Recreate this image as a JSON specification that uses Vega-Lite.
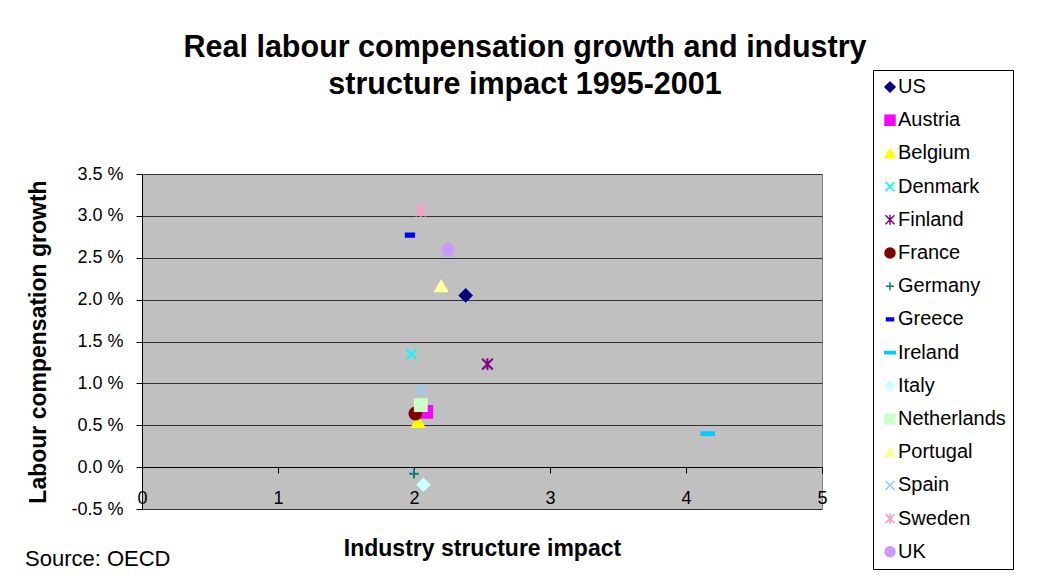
{
  "$schema": "https://vega.github.io/schema/vega-lite/v6.json",
  "width": 680,
  "height": 335,
  "autosize": {"type": "none"},
  "padding": {"left": 142, "top": 174, "right": 216, "bottom": 72},
  "background": "white",
  "config": {
    "font": "Liberation Sans",
    "view": {"fill": "#C0C0C0", "stroke": "#808080", "strokeWidth": 1}
  },
  "title": {
    "text": ["Real labour compensation growth and industry", "structure impact 1995-2001"],
    "fontSize": 30.5,
    "fontWeight": "bold",
    "font": "Liberation Sans",
    "color": "black",
    "anchor": "middle",
    "frame": "group",
    "dx": 43,
    "offset": -31,
    "lineHeight": 37
  },
  "layer": [
    {
      "data": {
        "values": [
          {"country": "US", "impact": 2.38, "growth": 2.05},
          {"country": "Austria", "impact": 2.09, "growth": 0.66},
          {"country": "Belgium", "impact": 2.03, "growth": 0.54},
          {"country": "Denmark", "impact": 1.98, "growth": 1.35},
          {"country": "Finland", "impact": 2.54, "growth": 1.23},
          {"country": "France", "impact": 2.01, "growth": 0.64},
          {"country": "Germany", "impact": 2.0, "growth": -0.08},
          {"country": "Greece", "impact": 1.97, "growth": 2.77},
          {"country": "Ireland", "impact": 4.16, "growth": 0.4},
          {"country": "Italy", "impact": 2.07, "growth": -0.21},
          {"country": "Netherlands", "impact": 2.05, "growth": 0.74},
          {"country": "Portugal", "impact": 2.2, "growth": 2.16},
          {"country": "Spain", "impact": 2.05, "growth": 0.92},
          {"country": "Sweden", "impact": 2.05, "growth": 3.06},
          {"country": "UK", "impact": 2.25, "growth": 2.59}
        ]
      },
      "mark": {"type": "point", "filled": true, "opacity": 1, "strokeWidth": 2, "size": 140},
      "encoding": {
        "x": {
          "field": "impact",
          "type": "quantitative",
          "scale": {"domain": [0, 5], "nice": false, "zero": false},
          "axis": {
            "values": [0, 1, 2, 3, 4, 5],
            "format": "d",
            "offset": -42,
            "grid": false,
            "domainColor": "black",
            "tickColor": "black",
            "tickSize": 6,
            "labelFontSize": 18,
            "labelColor": "black",
            "labelPadding": 16,
            "labelFlush": false,
            "labelOverlap": false,
            "title": "Industry structure impact",
            "titleFontSize": 23,
            "titleFontWeight": "bold",
            "titleColor": "black",
            "titlePadding": 30
          }
        },
        "y": {
          "field": "growth",
          "type": "quantitative",
          "scale": {"domain": [-0.5, 3.5], "nice": false, "zero": false},
          "axis": {
            "values": [-0.5, 0, 0.5, 1, 1.5, 2, 2.5, 3, 3.5],
            "labelExpr": "(datum.value < 0 ? '-' : '') + format(abs(datum.value), '.1f') + ' %'",
            "grid": true,
            "gridColor": "#333333",
            "gridWidth": 1,
            "domainColor": "black",
            "tickColor": "black",
            "tickSize": 6,
            "labelFontSize": 18,
            "labelColor": "black",
            "labelPadding": 13,
            "labelOverlap": false,
            "labelFlush": false,
            "title": "Labour compensation growth",
            "titleFontSize": 23,
            "titleFontWeight": "bold",
            "titleColor": "black",
            "titlePadding": 20
          }
        },
        "fill": {
          "field": "country",
          "type": "nominal",
          "scale": {
            "domain": ["US", "Austria", "Belgium", "Denmark", "Finland", "France", "Germany", "Greece", "Ireland", "Italy", "Netherlands", "Portugal", "Spain", "Sweden", "UK"],
            "range": ["#000080", "#FF00FF", "#FFFF00", "#00FFFF", "#800080", "#800000", "#008080", "#0000FF", "#00CCFF", "#CCFFFF", "#CCFFCC", "#FFFF99", "#99CCFF", "#FF99CC", "#CC99FF"]
          },
          "legend": {"orient": "none", "legendX": 731, "legendY": -104, "title": null, "strokeColor": "black", "fillColor": "white", "padding": 7, "rowPadding": 13.2, "labelFontSize": 20, "labelColor": "black", "symbolSize": 100, "symbolStrokeWidth": 1.5, "labelOffset": -2, "labelLimit": 300, "cornerRadius": 0}
        },
        "stroke": {
          "field": "country",
          "type": "nominal",
          "scale": {
            "domain": ["US", "Austria", "Belgium", "Denmark", "Finland", "France", "Germany", "Greece", "Ireland", "Italy", "Netherlands", "Portugal", "Spain", "Sweden", "UK"],
            "range": ["#000080", "#FF00FF", "#FFFF00", "#00FFFF", "#800080", "#800000", "#008080", "#0000FF", "#00CCFF", "#CCFFFF", "#CCFFCC", "#FFFF99", "#99CCFF", "#FF99CC", "#CC99FF"]
          },
          "legend": {"orient": "none", "legendX": 731, "legendY": -104, "title": null, "strokeColor": "black", "fillColor": "white", "padding": 7, "rowPadding": 13.2, "labelFontSize": 20, "labelColor": "black", "symbolSize": 100, "symbolStrokeWidth": 1.5, "labelOffset": -2, "labelLimit": 300, "cornerRadius": 0}
        },
        "shape": {
          "field": "country",
          "type": "nominal",
          "scale": {
            "domain": ["US", "Austria", "Belgium", "Denmark", "Finland", "France", "Germany", "Greece", "Ireland", "Italy", "Netherlands", "Portugal", "Spain", "Sweden", "UK"],
            "range": [
              "diamond",
              "square",
              "triangle-up",
              "M-0.9,-0.9L0.9,0.9M-0.9,0.9L0.9,-0.9",
              "M-0.9,-0.9L0.9,0.9M-0.9,0.9L0.9,-0.9M0,-1L0,1",
              "circle",
              "M-0.8,0L0.8,0M0,-0.8L0,0.8",
              "M-0.7,-0.28L0.7,-0.28L0.7,0.28L-0.7,0.28Z",
              "M-1.05,-0.22L1.05,-0.22L1.05,0.22L-1.05,0.22Z",
              "diamond",
              "square",
              "triangle-up",
              "M-0.9,-0.9L0.9,0.9M-0.9,0.9L0.9,-0.9",
              "M-0.9,-0.9L0.9,0.9M-0.9,0.9L0.9,-0.9M0,-1L0,1",
              "circle"
            ]
          },
          "legend": {"orient": "none", "legendX": 731, "legendY": -104, "title": null, "strokeColor": "black", "fillColor": "white", "padding": 7, "rowPadding": 13.2, "labelFontSize": 20, "labelColor": "black", "symbolSize": 100, "symbolStrokeWidth": 1.5, "labelOffset": -2, "labelLimit": 300, "cornerRadius": 0}
        }
      }
    },
    {
      "data": {"values": [{"note": "Source: OECD"}]},
      "mark": {"type": "text", "align": "left", "baseline": "middle", "dx": -117, "dy": 50, "fontSize": 22, "color": "black"},
      "encoding": {
        "text": {"field": "note", "type": "nominal"},
        "x": {"datum": 0, "type": "quantitative"},
        "y": {"datum": -0.5, "type": "quantitative"}
      }
    }
  ]
}
